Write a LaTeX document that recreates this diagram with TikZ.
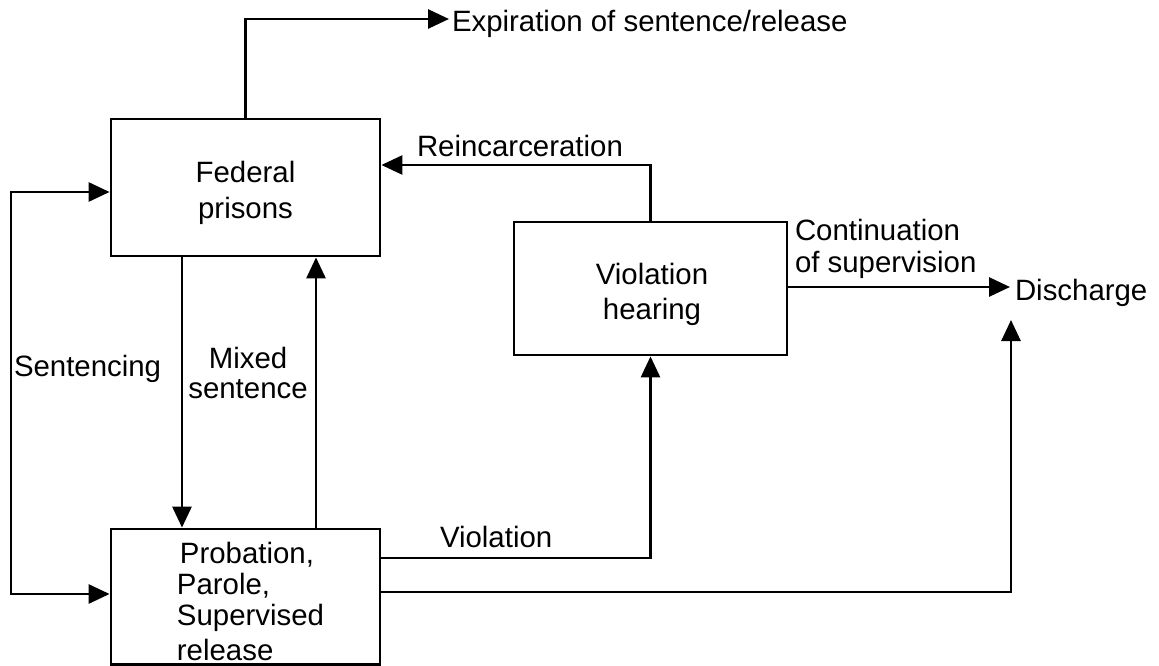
\documentclass[tikz,border=0pt]{standalone}
\usepackage{fontspec}
\setmainfont{Liberation Sans}
\usetikzlibrary{arrows.meta}
\begin{document}
\begin{tikzpicture}[x=1pt,y=-1pt,
  line width=2.8pt,
  box/.style={draw, rectangle, inner sep=0pt},
  txt/.style={inner sep=0pt, outer sep=0pt, align=center, font=\fontsize{29.4}{36}\selectfont},
  lbl/.style={inner sep=0pt, outer sep=0pt, font=\fontsize{29.4}{31}\selectfont},
  arr/.style={-{Triangle[length=21pt,width=19pt]}},
  dbl/.style={{Triangle[length=21pt,width=19pt]}-{Triangle[length=21pt,width=19pt]}}
]
\useasboundingbox (0,0) rectangle (1159,666);

% boxes
\node[box, minimum width=269pt, minimum height=137pt] (fed) at (245.5,187.5) {};
\node[box, minimum width=273pt, minimum height=133pt] (vh) at (650.5,288.5) {};
\node[box, minimum width=269pt, minimum height=135.5pt] (prob) at (245.5,596.75) {};

% box texts
\node[txt] (fedt) at (245.5,193) {Federal\\prisons};
\node[txt, font=\fontsize{29.4}{35}\selectfont] (vht) at (652,294) {Violation\\hearing};
\node[txt, align=left, font=\fontsize{29.4}{31}\selectfont] (probt) at (250.5,601) {\hspace*{3pt}Probation,\\Parole,\\Supervised\\[4pt]release};

% labels
\node[lbl, anchor=base west] (exp) at (452,32) {Expiration of sentence/release};
\node[lbl, anchor=base west] (rein) at (417,157) {Reincarceration};
\node[lbl, anchor=base west] (sent) at (14,376) {Sentencing};
\node[lbl, align=center, font=\fontsize{29.4}{30}\selectfont] (mixed) at (248,373) {Mixed\\sentence};
\node[lbl, anchor=base west] (viol) at (440,547) {Violation};
\node[lbl, anchor=base west] (dis) at (1015,300) {Discharge};
\node[lbl, align=left, anchor=north west, font=\fontsize{29.4}{32}\selectfont] (cont) at (795,219) {Continuation\\of supervision};

% coordinates
\coordinate (e1) at (245.5,19);
\coordinate (e2) at (449,19);
\coordinate (r1) at (650.5,165);
\coordinate (s1) at (11,192);
\coordinate (s2) at (11,594);
\coordinate (m1) at (182,0);
\coordinate (m2) at (316,0);
\coordinate (v1) at (650.5,558);
\coordinate (d1) at (1011,592);
\coordinate (d2) at (1011,320);
\coordinate (c1) at (1010,287);

% connectors
\draw[arr] (fed.north) -- (e1) -- (e2);
\draw[arr] (vh.north) -- (r1) -- (fed.east |- r1);
\draw[dbl] (fed.west |- s1) -- (s1) -- (s2) -- (prob.west |- s2);
\draw[arr] (fed.south -| m1) -- (prob.north -| m1);
\draw[arr] (prob.north -| m2) -- (fed.south -| m2);
\draw[arr] (prob.east |- v1) -- (v1) -- (vh.south);
\draw[arr] (prob.east |- d1) -- (d1) -- (d2);
\draw[arr] (vh.east |- c1) -- (c1);
\end{tikzpicture}
\end{document}
